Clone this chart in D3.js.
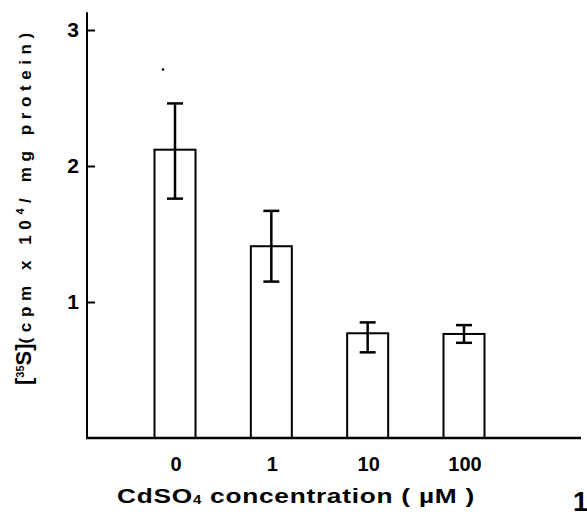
<!DOCTYPE html>
<html>
<head>
<meta charset="utf-8">
<script src="https://cdn.jsdelivr.net/npm/d3@7"></script>
<style>
  body { margin: 0; background: #fff; }
  svg { display: block; }
  text { font-family: "Liberation Sans", Arial, sans-serif; font-weight: bold; fill: #000; }
</style>
</head>
<body>
<div id="holder"></div>
<script>
const categories = ["0", "1", "10", "100"];
const means = [2.12, 1.41, 0.77, 0.765];
const errHigh = [2.46, 1.67, 0.85, 0.83];
const errLow = [1.76, 1.15, 0.63, 0.70];
const yTicks = [1, 2, 3];
const strayDot = { cat: "0", value: 2.71 };

const width = 587;
const height = 520;
const baseY = 438;
const axisX = 87;
const barWidth = 41;

const svg = d3.select("#holder")
    .append("svg")
    .attr("width", width)
    .attr("height", height);

const xScale = d3.scalePoint()
    .domain(categories)
    .range([175, 464]);

const yScale = d3.scaleLinear()
    .domain([0, 3])
    .range([baseY, 30]);

// bars
svg.selectAll("rect.bar")
    .data(categories)
    .enter()
    .append("rect")
    .attr("class", "bar")
    .attr("x", (d) => xScale(d) - barWidth / 2)
    .attr("y", (d, i) => yScale(means[i]))
    .attr("width", barWidth)
    .attr("height", (d, i) => baseY - yScale(means[i]))
    .attr("fill", "white")
    .attr("stroke", "black")
    .attr("stroke-width", 2);

// error bars
const errs = svg.append("g").attr("stroke", "black").attr("stroke-width", 2.5);
categories.forEach((c, i) => {
    const cx = xScale(c);
    errs.append("line")
        .attr("x1", cx).attr("x2", cx)
        .attr("y1", yScale(errHigh[i])).attr("y2", yScale(errLow[i]));
    [errHigh[i], errLow[i]].forEach((v) => {
        errs.append("line")
            .attr("x1", cx - 8).attr("x2", cx + 8)
            .attr("y1", yScale(v)).attr("y2", yScale(v));
    });
});

svg.append("circle")
    .attr("cx", xScale(strayDot.cat) - 12)
    .attr("cy", yScale(strayDot.value))
    .attr("r", 1.3)
    .attr("fill", "black");

// y axis
const yAxis = d3.axisLeft(yScale)
    .tickValues(yTicks)
    .tickSize(-8)
    .tickPadding(8)
    .tickFormat(d3.format("d"));

const yg = svg.append("g")
    .attr("transform", `translate(${axisX}, 0)`)
    .call(yAxis);
yg.select(".domain").remove();
yg.selectAll(".tick line").attr("stroke-width", 2);
yg.selectAll(".tick text")
    .style("font-size", "21px")
    .style("font-family", "Liberation Sans, Arial, sans-serif")
    .style("font-weight", "bold");

svg.append("line")
    .attr("x1", axisX).attr("x2", axisX)
    .attr("y1", yScale(3.13)).attr("y2", baseY)
    .attr("stroke", "black").attr("stroke-width", 2);

// x axis
svg.append("line")
    .attr("x1", axisX - 1).attr("x2", 581)
    .attr("y1", baseY).attr("y2", baseY)
    .attr("stroke", "black").attr("stroke-width", 2.5);

svg.selectAll("text.xlab")
    .data(categories)
    .enter()
    .append("text")
    .attr("class", "xlab")
    .attr("x", (d) => xScale(d) + 1)
    .attr("y", 471)
    .attr("text-anchor", "middle")
    .style("font-size", "20px")
    .text((d) => d);

// x title (stretched a little, the original face is extended)
const xt = svg.append("text")
    .attr("transform", "translate(117, 503) scale(1.25, 1)")
    .style("font-size", "21px")
    .style("letter-spacing", "0.6px");
xt.append("tspan").text("CdSO");
xt.append("tspan").attr("dy", 1).style("font-size", "12px").text("4");
xt.append("tspan").attr("dy", -1).text(" concentration ( \u00b5M )");

svg.append("text")
    .attr("x", 573)
    .attr("y", 511)
    .style("font-size", "27px")
    .text("1");

// y title
const yt = svg.append("text")
    .attr("transform", "translate(31, 385) rotate(-90)")
    .style("font-size", "17px");
yt.append("tspan").style("font-size", "22px").text("[");
yt.append("tspan").attr("dy", -7).style("font-size", "11px").text("35");
yt.append("tspan").attr("dy", 7).style("font-size", "22px").text("S]");
yt.append("tspan").style("letter-spacing", "5.6px").text("(cpm x 10");
yt.append("tspan").attr("dy", -7).style("font-size", "11px").style("letter-spacing", "5.6px").text("4");
yt.append("tspan").attr("dy", 7).style("letter-spacing", "5.6px").text("/ mg protein)");
</script>
</body>
</html>
